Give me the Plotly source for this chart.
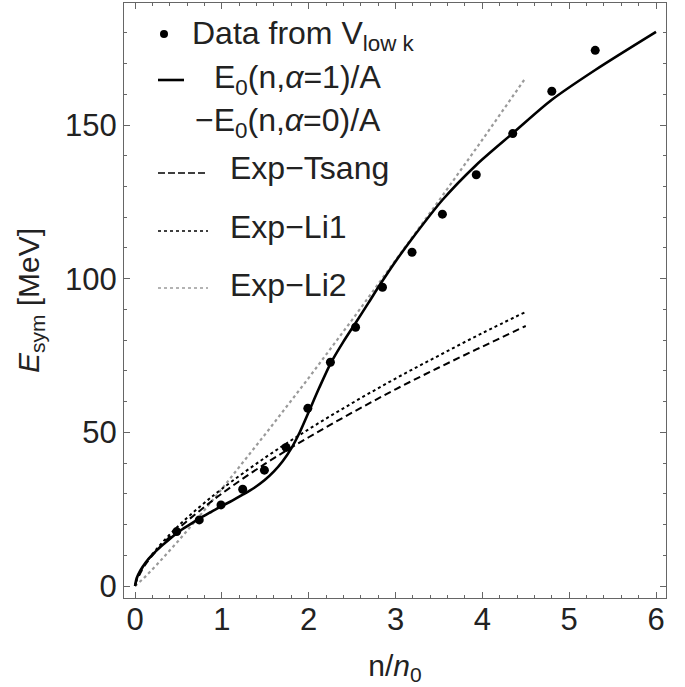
import plotly.graph_objects as go

# ---- data ----
data_x = [0.48, 0.74, 0.99, 1.24, 1.49, 1.74, 1.99, 2.25, 2.54, 2.85, 3.19, 3.54, 3.93, 4.35, 4.80, 5.30]
data_y = [17.7, 21.5, 26.4, 31.5, 37.7, 45.1, 57.8, 72.8, 84.2, 97.2, 108.6, 121.0, 133.8, 147.2, 161.0, 174.3]

e0_x = [0, 0.02, 0.06, 0.12, 0.2, 0.3, 0.4, 0.5, 0.62, 0.74, 0.87, 0.99, 1.12, 1.24, 1.37, 1.49,
        1.6, 1.7, 1.8, 1.9, 2.0, 2.12, 2.25, 2.4, 2.54, 2.69, 2.82, 3.0, 3.19, 3.54, 3.93, 4.35,
        4.80, 5.30, 6.0]
e0_y = [0, 2.6, 5.0, 7.6, 10.2, 12.9, 15.3, 17.6, 19.8, 21.9, 24.0, 25.9, 27.8, 29.7, 31.9, 34.4,
        37.3, 40.6, 44.8, 50.2, 56.6, 64.4, 72.3, 79.5, 85.6, 92.2, 98.0, 105.6, 113.0, 125.6, 137.0, 147.3,
        158.2, 167.9, 180.3]

exp_x = [0, 0.02, 0.05, 0.1, 0.25, 0.5, 0.75, 1.0, 1.5, 2.0, 2.5, 3.0, 3.5, 4.0, 4.5]
tsang_y = [0, 1.9, 3.6, 6.2, 11.6, 18.7, 24.6, 30.1, 39.8, 48.4, 56.4, 64.0, 71.1, 77.9, 84.6]
li1_y = [0, 2.2, 4.1, 6.5, 12.1, 19.6, 25.9, 31.6, 41.8, 51.0, 59.5, 67.5, 75.0, 82.3, 89.2]
li2_y = [0, 0.5, 1.2, 2.5, 6.9, 14.7, 23.0, 31.6, 49.4, 67.7, 86.6, 105.8, 125.4, 145.2, 165.4]

x_ticks = [0, 1, 2, 3, 4, 5, 6]
y_ticks = [0, 50, 100, 150]

FONT = "Liberation Sans, Arial, sans-serif"
FRAME = "#666666"
TXT = "#222222"
W, H = 685, 687
L, R, T, B = 124, 19, 3, 89

fig = go.Figure()
fig.add_trace(go.Scatter(x=exp_x, y=li2_y, mode="lines",
                         line=dict(color="#9a9a9a", width=2.2, dash="3px,3px"), name="Exp−Li2"))
fig.add_trace(go.Scatter(x=exp_x, y=tsang_y, mode="lines", line_shape="spline",
                         line=dict(color="black", width=2, dash="7px,4px"), name="Exp−Tsang"))
fig.add_trace(go.Scatter(x=exp_x, y=li1_y, mode="lines", line_shape="spline",
                         line=dict(color="black", width=2, dash="3px,3px"), name="Exp−Li1"))
fig.add_trace(go.Scatter(x=e0_x, y=e0_y, mode="lines", line_shape="spline",
                         line=dict(color="black", width=2.6, smoothing=0.8), name="E0"))
fig.add_trace(go.Scatter(x=data_x, y=data_y, mode="markers",
                         marker=dict(color="black", size=9), name="Data"))


def px(xp):
    return (xp - L) / (W - L - R)


def py(yp):
    return (H - B - yp) / (H - T - B)


# ---- manual legend ----
legend_rows = [
    ("Data from V<sub>low k</sub>", 190, 35),
    ("E<sub>0</sub>(n,<i>α</i>=1)/A", 212, 80),
    ("−E<sub>0</sub>(n,<i>α</i>=0)/A", 193, 123),
    ("Exp−Tsang", 228, 168),
    ("Exp−Li1", 228, 227),
    ("Exp−Li2", 228, 285),
]
for txt, xl, yc in legend_rows:
    fig.add_annotation(x=px(xl), y=py(yc), xref="paper", yref="paper", text=txt,
                       showarrow=False, xanchor="left", yanchor="middle",
                       font=dict(family=FONT, size=32, color=TXT))

fig.add_shape(type="circle", xref="paper", yref="paper",
              x0=px(160), x1=px(168), y0=py(38), y1=py(30),
              fillcolor="black", line=dict(color="black", width=0))
fig.add_shape(type="line", xref="paper", yref="paper", x0=px(158), x1=px(184), y0=py(80), y1=py(80),
              line=dict(color="black", width=2.6))
fig.add_shape(type="line", xref="paper", yref="paper", x0=px(158), x1=px(208), y0=py(173), y1=py(173),
              line=dict(color="black", width=1.6, dash="7px,3px"))
fig.add_shape(type="line", xref="paper", yref="paper", x0=px(158), x1=px(208), y0=py(231), y1=py(231),
              line=dict(color="black", width=1.6, dash="3px,3px"))
fig.add_shape(type="line", xref="paper", yref="paper", x0=px(158), x1=px(208), y0=py(288), y1=py(288),
              line=dict(color="#9a9a9a", width=1.6, dash="3px,3px"))

axis_common = dict(showgrid=False, zeroline=False, showline=True, linecolor=FRAME, linewidth=1,
                   mirror="ticks", ticks="inside", ticklen=6, tickwidth=1, tickcolor=FRAME,
                   automargin=False,
                   tickfont=dict(family=FONT, size=31, color=TXT))

fig.update_xaxes(range=[-0.127, 6.115], tickvals=x_ticks, ticktext=[str(v) for v in x_ticks],
                 minor=dict(dtick=0.2, ticks="inside", ticklen=3, tickcolor=FRAME),
                 ticklabelstandoff=-6,
                 title=dict(text="n/<i>n</i><sub>0</sub>", font=dict(family=FONT, size=30, color=TXT),
                            standoff=18),
                 **axis_common)
fig.update_yaxes(range=[-3.9, 189.7], tickvals=y_ticks, ticktext=[str(v) for v in y_ticks],
                 minor=dict(dtick=10, ticks="inside", ticklen=3, tickcolor=FRAME),
                 title=dict(text="<i>E</i><sub>sym</sub> [MeV]", font=dict(family=FONT, size=30, color=TXT),
                            standoff=16),
                 **axis_common)

fig.update_layout(width=W, height=H, margin=dict(l=L, r=R, t=T, b=B, autoexpand=False),
                  plot_bgcolor="white", paper_bgcolor="white", showlegend=False)

fig.write_html("out.html", config={"displayModeBar": False},
               post_script="document.body.style.margin='0';document.body.style.padding='0';"
                           "document.body.style.overflow='hidden';")
